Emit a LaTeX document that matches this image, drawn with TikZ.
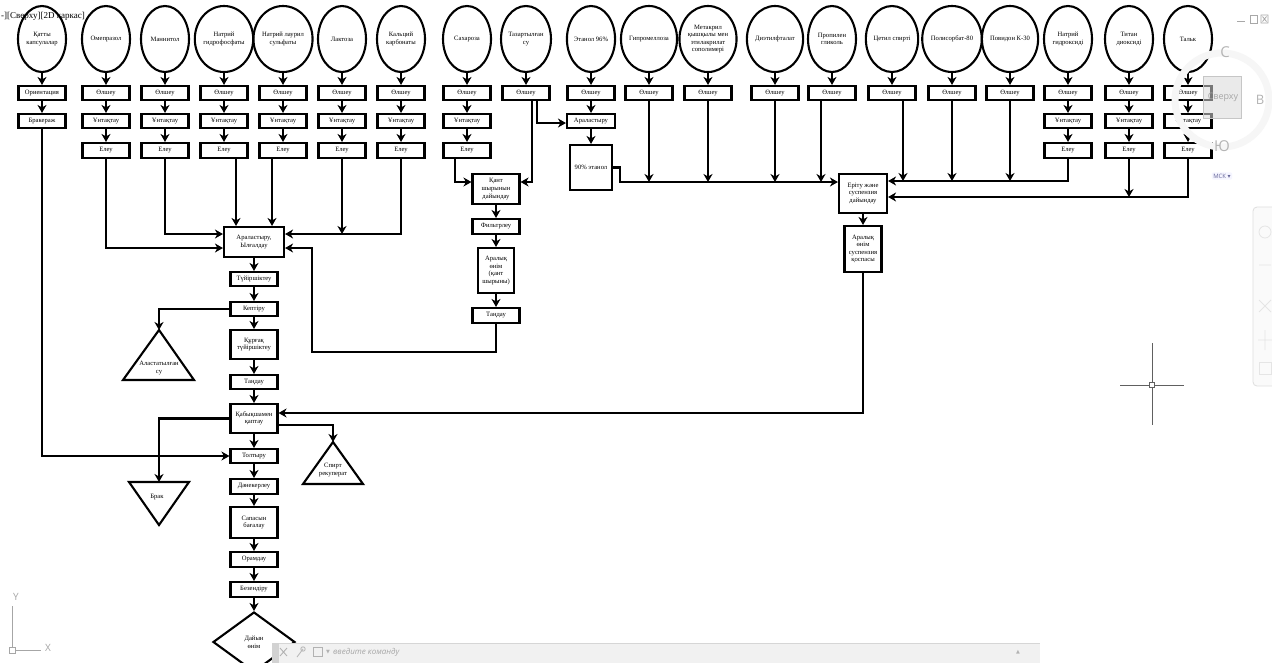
\documentclass[tikz,border=0pt]{standalone}
\usepackage{fontspec}
\setmainfont{Liberation Serif}
\newfontfamily\uif{Open Sans}
\newfontfamily\symf{DejaVu Sans}
\usetikzlibrary{shapes.geometric,arrows.meta,calc}
\definecolor{uigray}{HTML}{A8A8A8}
\definecolor{barbg}{HTML}{F1F1F1}
\definecolor{barln}{HTML}{D6D6D6}
\definecolor{cubetxt}{HTML}{B4B4B4}
\begin{document}
\begin{tikzpicture}[x=1pt,y=-1pt,
  ln/.style={line width=2.1pt},
  arr/.style={line width=2.1pt,-{Stealth[length=8pt,width=9pt,inset=2.5pt]}},
  circ/.style={ellipse,draw,line width=2.1pt,minimum width=48pt,minimum height=66pt,inner sep=0pt,align=center,font=\fontsize{6.6}{7.6}\selectfont},
  bx/.style={draw,fill=white,line width=2.1pt,minimum width=47pt,minimum height=14pt,inner sep=0pt,align=center,font=\fontsize{6.6}{7.6}\selectfont},
  lbl/.style={inner sep=0pt,align=center,font=\fontsize{6.6}{7.6}\selectfont},
  ui/.style={inner sep=0pt,font=\uif\fontsize{8}{9}\selectfont,text=uigray},
]
\useasboundingbox (0,0) rectangle (1272,662);
\fill[white] (0,0) rectangle (1272,662);

% ---------- top row of materials ----------
\foreach \i/\x/\t in {
 1/42/{Қатты\\капсулалар},
 2/106/{Омепразол},
 3/165/{Маннитол},
 4/224/{Натрий\\гидрофосфаты},
 5/283/{Натрий лаурил\\сульфаты},
 6/342/{Лактоза},
 7/401/{Кальций\\карбонаты},
 8/467/{Сахароза},
 9/526/{Тазартылған\\су},
 10/591/{Этанол 96\%},
 11/649/{Гипромеллоза},
 12/708/{Метакрил\\қышқылы мен\\этилакрилат\\сополимері},
 13/775/{Диэтилфталат},
 14/832/{Пропилен\\гликоль},
 15/892/{Цетил спирті},
 16/952/{Полисорбат-80},
 17/1010/{Повидон К-30},
 18/1068/{Натрий\\гидроксиді},
 19/1129/{Титан\\диоксиді},
 20/1188/{Тальк}}
 {\node[circ] (c\i) at (\x,39) {\t};}

% column 1
\node[bx] (o1) at (42,93) {Ориентация};
\node[bx] (b1) at (42,121) {Бракераж};
\draw[arr] (c1) -- (o1);
\draw[arr] (o1) -- (b1);

% weighing boxes
\foreach \i/\x in {2/106,3/165,4/224,5/283,6/342,7/401,8/467,9/526,10/591,11/649,12/708,13/775,14/832,15/892,16/952,17/1010,18/1068,19/1129,20/1188}
 {\node[bx] (o\i) at (\x,93) {Өлшеу};
  \draw[arr] (c\i) -- (o\i);}

% grinding and sieving
\foreach \i/\x in {2/106,3/165,4/224,5/283,6/342,7/401,8/467,18/1068,19/1129,20/1188}
 {\node[bx] (u\i) at (\x,121) {Ұнтақтау};
  \node[bx,minimum height=15pt] (e\i) at (\x,150.5) {Елеу};
  \draw[arr] (o\i) -- (u\i);
  \draw[arr] (u\i) -- (e\i);}

% ethanol column
\node[bx,minimum width=48pt] (a10) at (591,121) {Араластыру};
\node[bx,minimum width=42pt,minimum height=45pt] (p10) at (591,167.5) {90\% этанол};
\draw[arr] (o10) -- (a10);
\draw[arr] (a10) -- (p10);

% ---------- main chain ----------
\node[bx,minimum width=60pt,minimum height=30pt] (mix) at (254,242) {Араластыру,\\Ылғалдау};
\node[bx] (tuy) at (254,279) {Түйіршіктеу};
\node[bx] (kep) at (254,309) {Кептіру};
\node[bx,minimum height=29pt] (qur) at (254,344.5) {Құрғақ\\түйіршіктеу};
\node[bx] (tan1) at (254,382) {Таңдау};
\node[bx,minimum height=29pt] (kap) at (254,418.5) {Қабықшамен\\қаптау};
\node[bx] (tol) at (254,456) {Толтыру};
\node[bx,minimum height=15pt] (dan) at (254,486.5) {Дәнекерлеу};
\node[bx,minimum height=31pt] (sap) at (254,522.5) {Сапасын\\бағалау};
\node[bx,minimum height=15pt] (ora) at (254,559.5) {Орамдау};
\node[bx,minimum height=15pt] (bez) at (254,589.5) {Безендіру};
\node[diamond,draw,line width=2.1pt,minimum width=82pt,minimum height=60pt,aspect=1.37,inner sep=0pt,align=center,font=\fontsize{6.6}{7.6}\selectfont] (dai) at (254,642) {Дайын\\өнім};
\foreach \a/\b in {mix/tuy,tuy/kep,kep/qur,qur/tan1,tan1/kap,kap/tol,tol/dan,dan/sap,sap/ora,ora/bez,bez/dai}
 \draw[arr] (\a) -- (\b);

% inputs to mixing
\coordinate (e4o) at ([xshift=12pt]e4.south);
\coordinate (e5o) at ([xshift=-11pt]e5.south);
\coordinate (mixR) at ([yshift=8pt]mix.east);
\draw[arr] (e2.south) |- ([yshift=-6pt]mix.west);
\draw[arr] (e3.south) |- ([yshift=8pt]mix.west);
\draw[arr] (e4o) -- (e4o |- mix.north);
\draw[arr] (e5o) -- (e5o |- mix.north);
\draw[arr] (e7.south) |- (mixR);
\draw[arr] (e6.south) -- (e6.south |- mixR);

% ---------- sugar syrup branch ----------
\node[bx,minimum height=30pt] (qs) at (496,189) {Қант\\шырынын\\дайындау};
\node[bx,minimum height=15pt] (fil) at (496,226.5) {Фильтрлеу};
\node[bx,minimum width=36pt,minimum height=45pt] (ar1) at (496,270.5) {Аралық\\өнім\\(қант\\шырыны)};
\node[bx,minimum height=15pt] (tan2) at (496,315.5) {Таңдау};
\draw[arr] (qs) -- (fil);
\draw[arr] (fil) -- (ar1);
\draw[arr] (ar1) -- (tan2);
\coordinate (e8o) at ([xshift=-12pt]e8.south);
\coordinate (o9l) at ([xshift=6pt]o9.south);
\coordinate (o9r) at ([xshift=11pt]o9.south);
\coordinate (qsL) at ([yshift=7pt]qs.west);
\coordinate (qsR) at ([yshift=7pt]qs.east);
\draw[arr] (e8o) |- (qsL);
\draw[arr] (o9l) |- (qsR);
\draw[arr] (o9r) |- ([yshift=-2pt]a10.west);
\coordinate (fb) at (312,352);
\draw[arr] (tan2.south) |- (fb) |- ([yshift=-6pt]mix.east);

% ---------- coating suspension branch ----------
\node[bx,minimum width=48pt,minimum height=39pt] (eri) at (863,193.5) {Еріту және\\суспензия\\дайындау};
\node[bx,minimum width=37pt,minimum height=46pt] (sus) at (863,249) {Аралық\\өнім\\суспензия\\қоспасы};
\draw[arr] (eri) -- (sus);
\coordinate (eriL) at ([yshift=11.5pt]eri.west);
\coordinate (eriR1) at ([yshift=12.5pt]eri.east);
\coordinate (eriR2) at ([yshift=-3.5pt]eri.east);
\coordinate (k1) at (620,182);
\draw[arr] (p10.east) -| (k1) -- (eriL);
\foreach \n in {o11,o12,o13} \draw[arr] (\n.south) -- (\n.south |- eriL);
\coordinate (o14o) at ([xshift=-11pt]o14.south);
\draw[arr] (o14o) -- (o14o |- eriL);
\draw[arr] (e18.south) |- (eriR1);
\coordinate (o15o) at ([xshift=11pt]o15.south);
\draw[arr] (o15o) -- (o15o |- eriR1);
\draw[arr] (o16.south) -- (o16.south |- eriR1);
\draw[arr] (o17.south) -- (o17.south |- eriR1);
\draw[arr] (e20.south) |- (eriR2);
\draw[arr] (e19.south) -- (e19.south |- eriR2);
\draw[arr] (sus.south) |- ([yshift=5.5pt]kap.east);

% capsule shells to filling
\draw[arr] (b1.south) |- (tol.west);

% ---------- side outputs (triangles) ----------
\draw[ln,line join=miter] (159,330) -- (194,380) -- (123,380) -- cycle;
\coordinate (t1) at (159,330);
\node[lbl] (t1l) at (159,368) {Аластатылған\\су};
\draw[arr] (kep.west) -| (t1);

\draw[ln,line join=miter] (129,482) -- (189,482) -- (159,525) -- cycle;
\coordinate (t2) at (159,482);
\node[lbl] (t2l) at (157,497) {Брак};
\draw[arr] (kap.west) -| (t2);

\draw[ln,line join=miter] (333,442) -- (363,484) -- (303,484) -- cycle;
\coordinate (t3) at (333,442);
\node[lbl] (t3l) at (333,470) {Спирт\\рекуперат};
\draw[arr] ([yshift=-6.5pt]kap.east) -| (t3);

% ---------- CAD interface elements ----------
\node[anchor=west,inner sep=0pt,font=\fontsize{9}{10}\selectfont] (vp) at (1,16) {-][Сверху][2D каркас]};
% window buttons
\draw[uigray,line width=1pt] (1237,21) -- (1245,21);
\draw[uigray,line width=0.8pt] (1250,15) rectangle (1257,23);
\draw[uigray,line width=0.8pt] (1261,15) rectangle (1268,23) (1262.5,16.5) -- (1266.5,21.5) (1266.5,16.5) -- (1262.5,21.5);
% view cube
\draw[gray!7,line width=7pt] (1222,100) circle[radius=47];
\node[ui,font=\uif\fontsize{15}{16}\selectfont,text=cubetxt] (vcN) at (1225,52) {С};
\node[ui,font=\uif\fontsize{13}{14}\selectfont,text=cubetxt] (vcE) at (1260,100) {В};
\node[ui,font=\uif\fontsize{15}{16}\selectfont,text=cubetxt] (vcS) at (1222,146) {Ю};
\fill[gray!30,opacity=0.55] (1203,76) rectangle (1241,118);
\draw[gray!45,line width=0.6pt] (1203,76) rectangle (1241,118);
\node[ui,font=\uif\fontsize{9}{10}\selectfont,text=gray!70] (vcT) at (1223,97) {Сверху};
\node[ui,fill=blue!4,rounded corners=2pt,inner sep=1.5pt,font=\uif\fontsize{6}{7}\selectfont,text=gray!80!blue] (msk) at (1222,176) {МСК \symf▾};
% navigation bar
\draw[gray!25,fill=gray!4,rounded corners=4pt,line width=0.8pt] (1253,207) rectangle (1278,386);
\draw[gray!20,line width=0.8pt] (1265,232) circle[radius=6];
\draw[gray!20,line width=0.8pt] (1259,265) -- (1271,265) (1259,300) -- (1271,312) (1271,300) -- (1259,312) (1265,330) -- (1265,350) (1258,340) -- (1272,340);
\draw[gray!20,line width=0.8pt] (1259,362) rectangle (1271,374);
% crosshair
\draw[gray!75!black,line width=0.8pt] (1120,385) -- (1149,385) (1155,385) -- (1184,385) (1152,343) -- (1152,382) (1152,388) -- (1152,425);
\draw[gray!75!black,line width=0.6pt] (1149.5,382.5) rectangle (1154.5,387.5);
% UCS icon
\draw[gray!70,line width=0.8pt] (12,606) -- (12,647) (15,650) -- (41,650);
\draw[gray!70,line width=0.7pt] (9,647) rectangle (15,653);
\node[ui,font=\uif\fontsize{10}{11}\selectfont,text=gray!70] (ucsY) at (16,597) {Y};
\node[ui,font=\uif\fontsize{10}{11}\selectfont,text=gray!70] (ucsX) at (48,648) {X};
% command line
\fill[barbg] (272,643) rectangle (1040,663);
\draw[barln,line width=0.6pt] (272,643) -- (1040,643);
\fill[gray!35] (272,643) rectangle (279,663);
\draw[gray!60,line width=0.9pt] (280,648) -- (287,656) (287,648) -- (280,656);
\draw[gray!55,line width=0.9pt] (297,657) -- (303,649) (303,649) circle[radius=2.2];
\draw[gray!60,line width=0.7pt] (313,647) rectangle (322,656);
\node[ui,font=\symf\fontsize{5}{6}\selectfont,text=gray!60] (cmdm) at (328,652) {▼};
\node[ui,anchor=west,font=\uif\itshape\fontsize{8}{9}\selectfont,text=gray!70] (cmd) at (333,652) {введите команду};
\node[ui,font=\symf\fontsize{5}{6}\selectfont,text=gray!60] (cmdu) at (1018,652) {▲};
\end{tikzpicture}
\end{document}
